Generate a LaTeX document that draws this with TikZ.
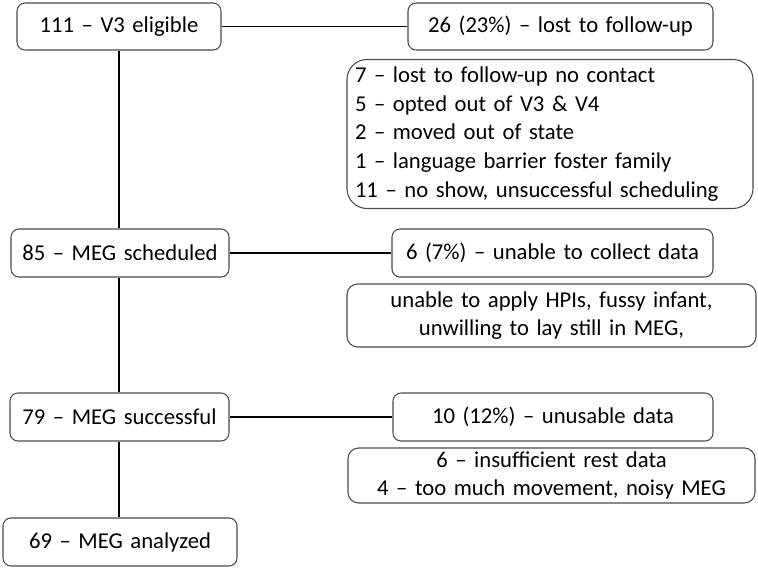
\documentclass[tikz,border=0pt]{standalone}
\usepackage{fontspec}
\setmainfont{Carlito}
\tikzset{
  box/.style={draw=black!70, line width=0.8pt, rounded corners=6pt, inner sep=0pt, align=center, font=\fontsize{17}{21.5}\selectfont},
  link/.style={line width=1.1pt, black}
}

\begin{document}
\begin{tikzpicture}[x=0.75pt,y=-0.75pt]
\useasboundingbox (0,0) rectangle (758,569);
% left column
\node[box, text width=153pt, minimum height=35.25pt] (elig) at (119,26.5) {111 -- V3 eligible};
\node[box, text width=163.5pt, minimum height=36pt] (sched) at (120,253) {85 -- MEG scheduled};
\node[box, text width=164.25pt, minimum height=36pt] (succ) at (119.5,417) {79 -- MEG successful};
\node[box, text width=175.5pt, minimum height=36pt] (anal) at (120,542) {69 -- MEG analyzed};
% right column
\node[box, text width=228.75pt, minimum height=35.25pt] (lost) at (560.5,26.5) {26 (23\%) -- lost to follow-up};
\node[box, rounded corners=15pt, align=left, inner xsep=6pt, text width=292.5pt, minimum height=111.75pt] (lostwhy) at (550,134)
  {7 -- lost to follow-up no contact\\
   5 -- opted out of V3 \& V4\\
   2 -- moved out of state\\
   1 -- language barrier foster family\\
   11 -- no show, unsuccessful scheduling};
\node[box, text width=240.75pt, minimum height=36pt] (nodata) at (552.5,253) {6 (7\%) -- unable to collect data};
\node[box, rounded corners=8pt, text width=306.75pt, minimum height=47.25pt] (nodatawhy) at (551.5,315.5)
  {unable to apply HPIs, fussy infant,\\ unwilling to lay still in MEG,};
\node[box, text width=240pt, minimum height=36pt] (unus) at (553,417) {10 (12\%) -- unusable data};
\node[box, rounded corners=8pt, text width=305.25pt, minimum height=41.25pt] (unuswhy) at (551.5,475.5)
  {6 -- insufficient rest data\\ 4 -- too much movement, noisy MEG};
% connectors
\draw[link] (elig.south) -- (elig.south |- sched.north);
\draw[link] (elig.south |- sched.south) -- (elig.south |- succ.north);
\draw[link] (elig.south |- succ.south) -- (elig.south |- anal.north);
\draw[link] (elig.east) -- (lost.west);
\draw[link] (sched.east) -- (nodata.west);
\draw[link] (succ.east) -- (unus.west);
\end{tikzpicture}
\end{document}
